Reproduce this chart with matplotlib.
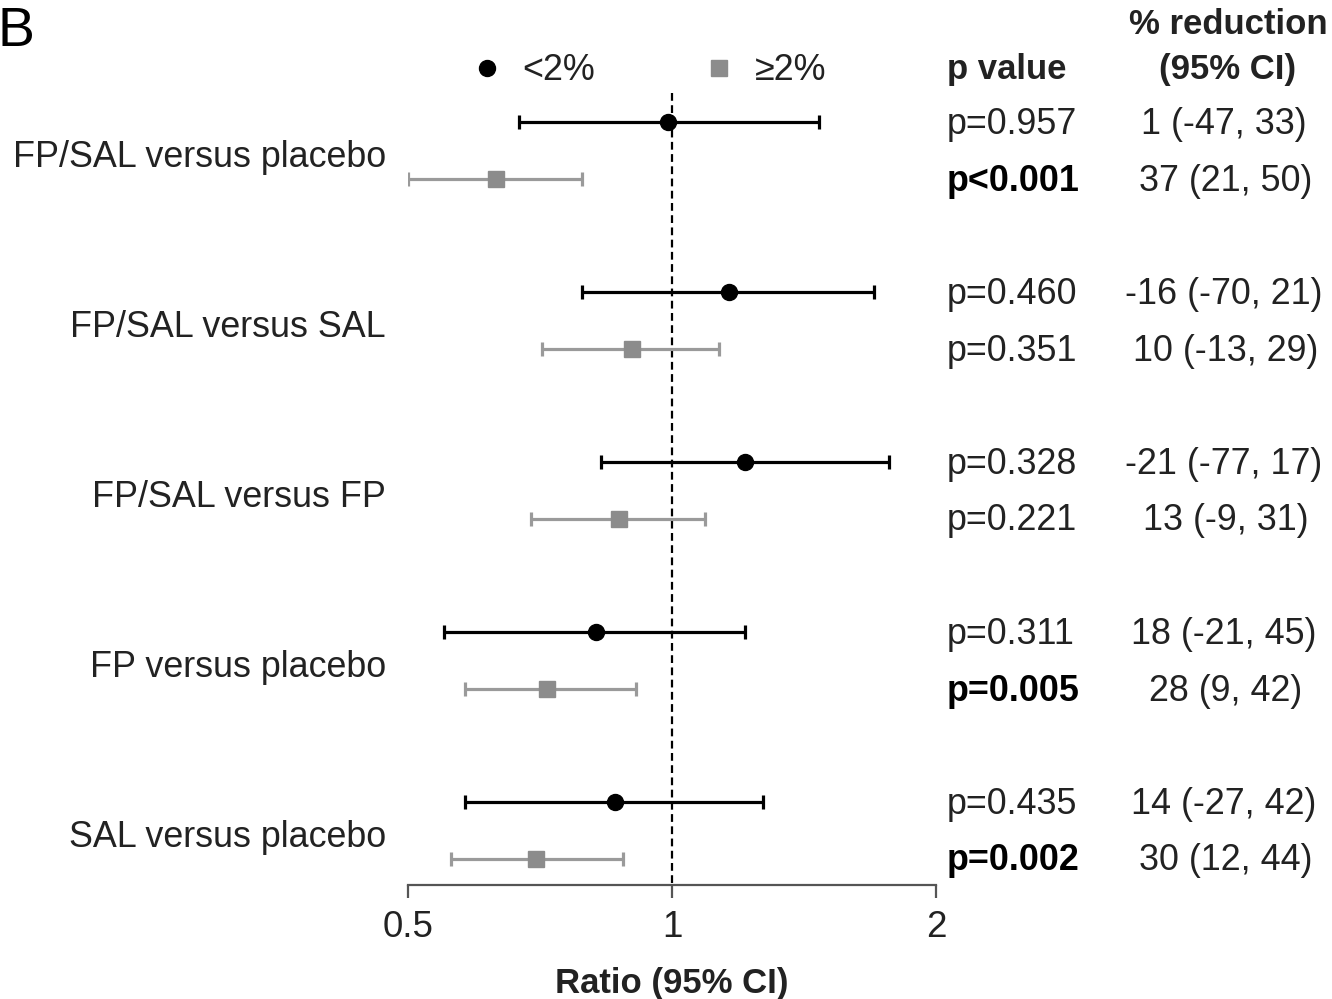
import matplotlib
matplotlib.use("Agg")
import matplotlib.pyplot as plt
from matplotlib.lines import Line2D
from matplotlib.transforms import blended_transform_factory, offset_copy

plt.rcParams['font.family'] = ['Liberation Sans', 'DejaVu Sans']

# ---- data ----
comparisons = ["FP/SAL versus placebo", "FP/SAL versus SAL", "FP/SAL versus FP",
               "FP versus placebo", "SAL versus placebo"]
# <2% group (black circles)
lt_ratio = [0.99, 1.16, 1.21, 0.82, 0.86]
lt_low = [0.67, 0.79, 0.83, 0.55, 0.58]
lt_high = [1.47, 1.70, 1.77, 1.21, 1.27]
lt_p = ["p=0.957", "p=0.460", "p=0.328", "p=0.311", "p=0.435"]
lt_p_bold = [False, False, False, False, False]
lt_red = ["1 (-47, 33)", "-16 (-70, 21)", "-21 (-77, 17)", "18 (-21, 45)", "14 (-27, 42)"]
# >=2% group (gray squares)
ge_ratio = [0.63, 0.90, 0.87, 0.72, 0.70]
ge_low = [0.50, 0.71, 0.69, 0.58, 0.56]
ge_high = [0.79, 1.13, 1.09, 0.91, 0.88]
ge_p = ["p<0.001", "p=0.351", "p=0.221", "p=0.005", "p=0.002"]
ge_p_bold = [True, False, False, True, True]
ge_red = ["37 (21, 50)", "10 (-13, 29)", "13 (-9, 31)", "28 (9, 42)", "30 (12, 44)"]
xticks = [0.5, 1, 2]
xticklabels = ["0.5", "1", "2"]

W, H = 1332, 999
fig = plt.figure(figsize=(W / 100, H / 100), dpi=100)
ax_top_px, ax_bot_px = 40, 885
ax = fig.add_axes([408 / W, 1 - ax_bot_px / H, (936 - 408) / W, (ax_bot_px - ax_top_px) / H])

unit = 57.0
gap = 170.0 / unit
y_black = [i * gap for i in range(len(comparisons))]
y_gray = [y + 1 for y in y_black]

black = "#000000"
gray_m = "#8c8c8c"
gray_l = "#9a9a9a"
txt = "#222222"
FS = 25.8

for i in range(len(comparisons)):
    ax.errorbar(lt_ratio[i], y_black[i],
                xerr=[[lt_ratio[i] - lt_low[i]], [lt_high[i] - lt_ratio[i]]],
                fmt='o', color=black, ms=11.5, elinewidth=2.3, capsize=4.8, capthick=2.3,
                zorder=3)
    ax.errorbar(ge_ratio[i], y_gray[i],
                xerr=[[ge_ratio[i] - ge_low[i]], [ge_high[i] - ge_ratio[i]]],
                fmt='s', color=gray_l, mfc=gray_m, mec=gray_m, ms=11, elinewidth=2.3,
                capsize=4.8, capthick=2.3, zorder=3)

ax.set_xscale('log', base=2)
ax.set_xlim(0.5, 2)
top_val = (ax_top_px - 122) / unit
bot_val = (ax_bot_px - 122) / unit
ax.set_ylim(bot_val, top_val)
ax.plot([1, 1], [(93 - 122) / unit, bot_val], ls=(0, (3.5, 2)), color=black, lw=1.6, zorder=2)

for s in ['top', 'right', 'left']:
    ax.spines[s].set_visible(False)
ax.spines['bottom'].set_color('#555555')
ax.spines['bottom'].set_linewidth(1.6)
ax.set_yticks([])
ax.set_xticks(xticks)
ax.set_xticklabels(xticklabels)
ax.minorticks_off()
ax.tick_params(axis='x', length=9, width=1.6, color='#555555', labelsize=26.5,
               labelcolor=txt, pad=9)
ax.set_xlabel("Ratio (95% CI)", fontsize=25, fontweight='bold', color=txt, labelpad=16)

# row labels and table texts
tr = blended_transform_factory(fig.transFigure, ax.transData)
tr_lab = offset_copy(tr, fig=fig, x=0, y=-7, units='dots')
tr_tab = offset_copy(tr, fig=fig, x=0, y=-2, units='dots')
for i, name in enumerate(comparisons):
    ymid = (y_black[i] + y_gray[i]) / 2
    ax.text(386 / W, ymid, name, transform=tr_lab, ha='right', va='center', fontsize=FS,
            color=txt)
    ax.text(947 / W, y_black[i], lt_p[i], transform=tr_tab, ha='left', va='center', fontsize=FS,
            color=black if lt_p_bold[i] else txt, fontweight='bold' if lt_p_bold[i] else 'normal')
    ax.text(947 / W, y_gray[i], ge_p[i], transform=tr_tab, ha='left', va='center', fontsize=FS,
            color=black if ge_p_bold[i] else txt, fontweight='bold' if ge_p_bold[i] else 'normal')
    ax.text(1224 / W, y_black[i], lt_red[i], transform=tr_tab, ha='center', va='center',
            fontsize=FS, color=txt)
    ax.text(1226 / W, y_gray[i], ge_red[i], transform=tr_tab, ha='center', va='center',
            fontsize=FS, color=txt)

# headers
fig.text(947 / W, 1 - 69 / H, "p value", ha='left', va='center', fontsize=25,
         fontweight='bold', color=txt)
fig.text(1228 / W, 1 - 25 / H, "% reduction", ha='center', va='center', fontsize=25,
         fontweight='bold', color=txt)
fig.text(1228 / W, 1 - 69 / H, "(95% CI)", ha='center', va='center', fontsize=25,
         fontweight='bold', color=txt)
fig.text(-2 / W, 1 - 32 / H, "B", ha='left', va='center', fontsize=40, color=black)

# legend
handles = [Line2D([], [], marker='o', ls='none', color=black, ms=11.5, label='<2%'),
           Line2D([], [], marker='s', ls='none', color=gray_m, ms=11, label='\u22652%')]
leg = fig.legend(handles=handles, loc='center left', bbox_to_anchor=(474 / W, 1 - 71 / H),
                 ncol=2, frameon=False, fontsize=FS, handlelength=0.7, handletextpad=0.65,
                 columnspacing=3.1, borderpad=0, borderaxespad=0)
for t in leg.get_texts():
    t.set_color(txt)

fig.savefig("out.png", dpi=100)
